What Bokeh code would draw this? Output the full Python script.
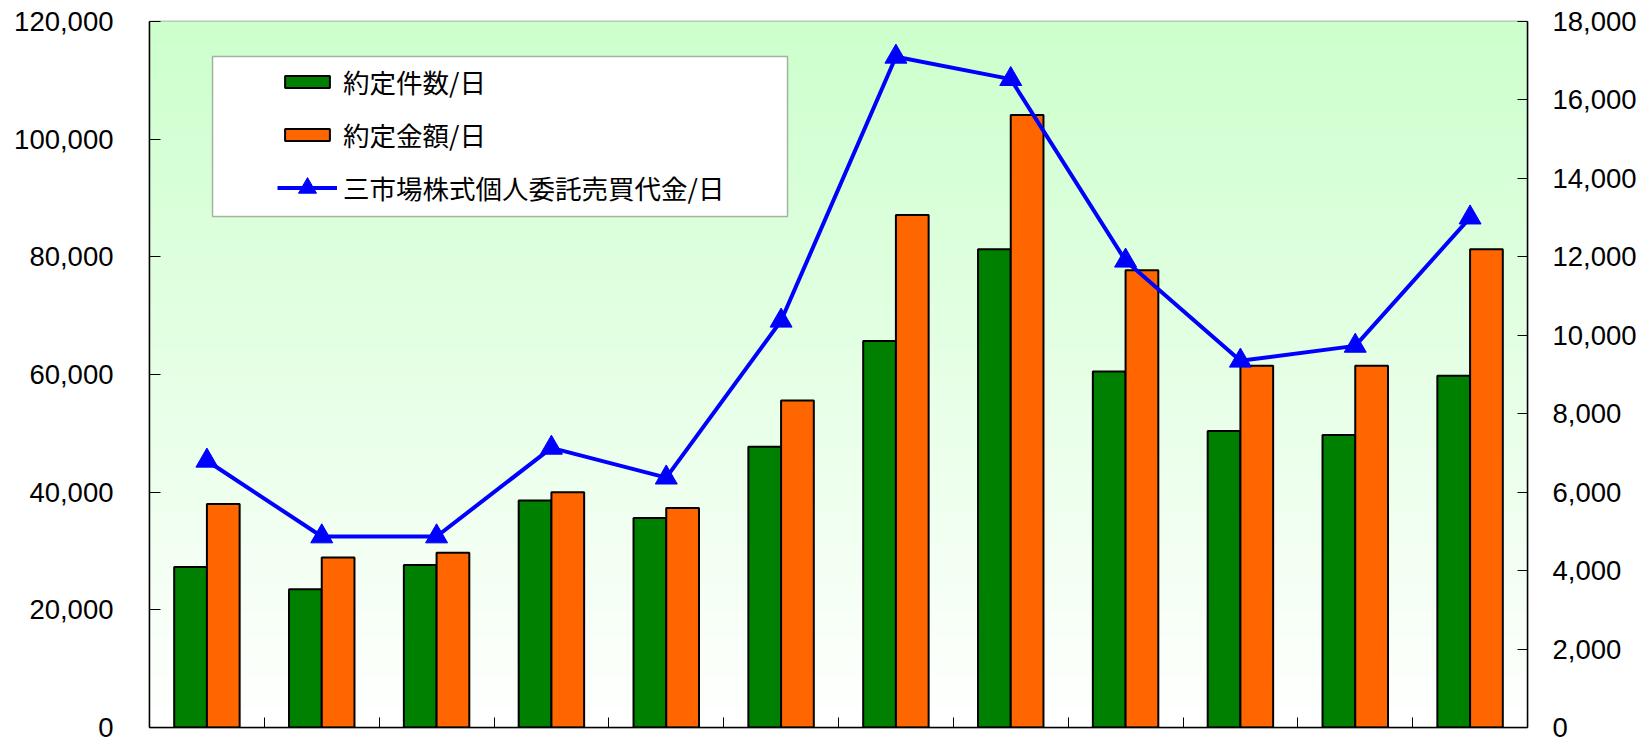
import numpy as np
from bokeh.plotting import figure
from bokeh.models import (Range1d, LinearAxis, FixedTicker, NumeralTickFormatter,
                          Legend, LegendItem, BoxAnnotation)
from bokeh.embed import file_html
from bokeh.resources import INLINE

# ---------------- data ----------------
periods = ["1", "2", "3", "4", "5", "6", "7", "8", "9", "10", "11", "12"]
trades_per_day = [27300, 23500, 27600, 38600, 35600, 47700, 65700, 81300, 60500, 50400, 49700, 59800]
amount_per_day = [38000, 28900, 29700, 40000, 37300, 55600, 87100, 104100, 77700, 61500, 61500, 81300]
market_value_per_day = [6800, 4870, 4870, 7130, 6370, 10370, 17100, 16530, 11900, 9350, 9730, 13000]
left_ticks = [0, 20000, 40000, 60000, 80000, 100000, 120000]
right_ticks = [0, 2000, 4000, 6000, 8000, 10000, 12000, 14000, 16000, 18000]
legend_labels = ["約定件数/日", "約定金額/日", "三市場株式個人委託売買代金/日"]

# ---------------- figure ----------------
n = len(periods)
p = figure(width=1640, height=744, x_range=Range1d(0, n), y_range=Range1d(0, left_ticks[-1]),
           output_backend="svg", toolbar_location=None,
           min_border_left=149, min_border_right=113, min_border_top=21, min_border_bottom=17,
           background_fill_color="white", border_fill_color="white")
p.extra_y_ranges = {"right": Range1d(0, right_ticks[-1])}
p.grid.visible = False
p.outline_line_color = "#808080"
p.outline_line_width = 1.5

# background gradient (light green at top to white at bottom)
nb = 140
edges = np.linspace(0, left_ticks[-1], nb + 1)
tt = (np.arange(nb) + 0.5) / nb
cols = ["#%02x%02x%02x" % (int(round(255 - 51 * t)), 255, int(round(255 - 51 * t))) for t in tt]
p.quad(left=0, right=n, bottom=edges[:-1], top=edges[1:], fill_color=cols, line_color=cols, line_width=1)

# bars
xc = np.arange(n) + 0.5
bw = 0.285
g = p.vbar(x=xc - bw / 2, top=trades_per_day, width=bw, fill_color="#008000",
           line_color="black", line_width=2)
o = p.vbar(x=xc + bw / 2, top=amount_per_day, width=bw, fill_color="#FF6600",
           line_color="black", line_width=2)

# line on right axis
ln = p.line(x=xc, y=market_value_per_day, y_range_name="right", line_color="#0000FF", line_width=4)
mk = p.scatter(x=xc, y=market_value_per_day, y_range_name="right", marker="triangle", size=22,
               fill_color="#0000FF", line_color="#0000FF")

# axes
num_font = "Liberation Sans"
num_size = "27.5px"
xa = p.xaxis[0]
xa.ticker = FixedTicker(ticks=[], minor_ticks=list(range(1, n)))
xa.major_tick_in = 0
xa.major_tick_out = 0
xa.minor_tick_in = 10
xa.minor_tick_out = 0
xa.minor_tick_line_color = "black"
xa.minor_tick_line_width = 1
xa.axis_line_color = "black"
xa.axis_line_width = 1.5

ya = p.yaxis[0]
ya.ticker = FixedTicker(ticks=left_ticks)
ya.formatter = NumeralTickFormatter(format="0,0")
ya.major_tick_in = 11
ya.major_tick_out = 0
ya.major_label_standoff = 36
ya.major_label_text_font = num_font
ya.major_label_text_font_size = num_size
ya.major_label_text_color = "black"
ya.axis_line_color = "black"
ya.axis_line_width = 1.5
ya.major_tick_line_color = "black"

ra = LinearAxis(y_range_name="right", ticker=FixedTicker(ticks=right_ticks),
                formatter=NumeralTickFormatter(format="0,0"))
ra.major_tick_in = 10
ra.major_tick_out = 0
ra.major_label_standoff = 25
ra.major_label_text_font = num_font
ra.major_label_text_font_size = num_size
ra.major_label_text_color = "black"
ra.axis_line_color = "black"
ra.axis_line_width = 1.5
ra.major_tick_line_color = "black"
p.add_layout(ra, "right")

# legend box + legends
box = BoxAnnotation(left=0.549, right=5.556, bottom=86860, top=114060,
                    fill_color="white", fill_alpha=1.0, line_color="black", line_width=1.5)
p.add_layout(box)

common = dict(orientation="vertical", padding=0, margin=0,
              border_line_alpha=0, background_fill_alpha=0,
              label_text_font="Noto Sans CJK JP", label_text_font_size="26.5px",
              label_text_color="black")
legend_bars = Legend(items=[LegendItem(label=legend_labels[0], renderers=[g]),
                            LegendItem(label=legend_labels[1], renderers=[o])],
                     location=(130, 573), spacing=14, glyph_width=56, glyph_height=15,
                     label_standoff=8, label_height=38, **common)
legend_line = Legend(items=[LegendItem(label=legend_labels[2], renderers=[ln, mk])],
                     location=(128, 517), spacing=0, glyph_width=60, glyph_height=45,
                     label_standoff=6, label_height=45, **common)
p.add_layout(legend_bars)
p.add_layout(legend_line)

open("out.html", "w").write(file_html(p, INLINE))
